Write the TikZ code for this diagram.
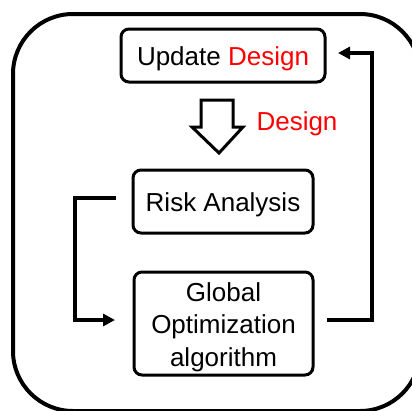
\documentclass[tikz,border=0pt]{standalone}
\usepackage{fontspec}
\setmainfont{Liberation Sans}
\usetikzlibrary{arrows.meta}
\definecolor{hired}{RGB}{255,0,0}
\begin{document}
\begin{tikzpicture}[x=1pt,y=-1pt,
  box/.style={draw=black, line width=3pt, rounded corners=8pt, inner sep=0pt,
    align=center, font=\fontsize{26}{32}\selectfont,
    execute at begin node={\rule{0pt}{25pt}}},
  boxtext/.style={align=center, inner sep=0pt, font=\fontsize{26}{32.5}\selectfont},
  link/.style={line width=3.4pt, -{Triangle[length=12pt,width=12pt]}}]
  \useasboundingbox (0,0) rectangle (412,410);
  % outer frame, partly cut off at the right and bottom
  \draw[line width=4pt, rounded corners=60pt] (13,14) rectangle (420,411);

  \node[box, minimum width=204pt, minimum height=53pt] (upd) at (223,55.5)
    {Update \textcolor{hired}{Design}};
  \node[box, minimum width=180pt, minimum height=63pt] (risk) at (223,201.5)
    {Risk Analysis};
  \node[box, minimum width=179pt, minimum height=103pt,
    label={[boxtext, yshift=-3.5pt]center:{Global\\Optimization\\algorithm}}]
    (glob) at (223.5,323.5) {};

  % hollow block arrow with its label
  \draw[line width=3pt, fill=white, miter limit=10]
    (201,100) -- (233,100) -- (233,127) -- (243,127) -- (219,153)
    -- (192,127) -- (201,127) -- cycle;
  \node[font=\fontsize{26}{32}\selectfont, text=hired, inner sep=0pt] (dlab) at (297,124) {Design};

  % feedback connectors
  \coordinate (rOut) at (116,198);
  \coordinate (gIn) at (115,320);
  \coordinate (gOut) at (327,320);
  \coordinate (uIn) at (338,53);
  \draw[link] (rOut) -- (75,198) -- (75,320) -- (gIn);
  \draw[link] (gOut) -- (372,320) -- (372,53) -- (uIn);
\end{tikzpicture}
\end{document}
